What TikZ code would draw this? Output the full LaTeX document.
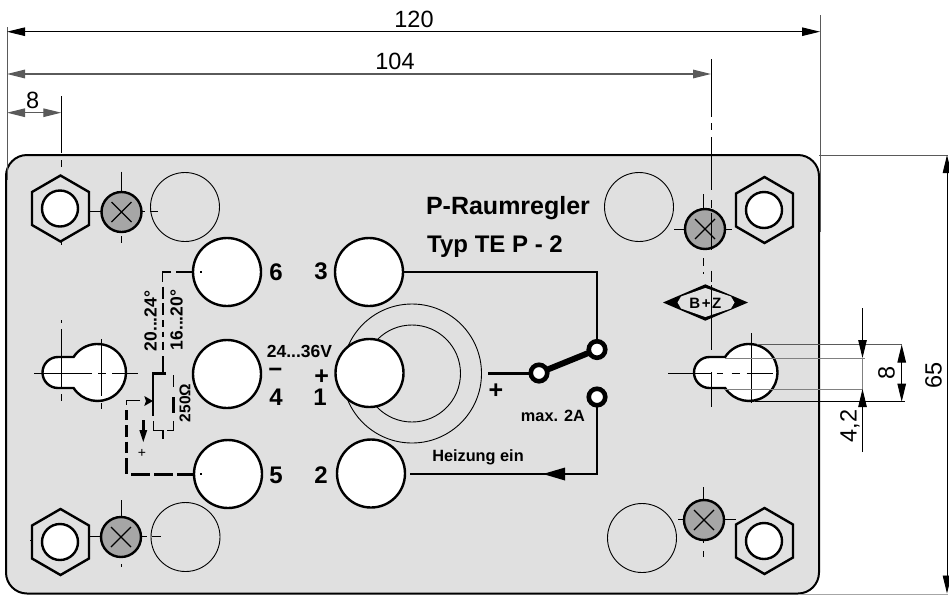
\documentclass[tikz,border=0pt]{standalone}
\usepackage{fontspec}
\setmainfont{Liberation Sans}
\usetikzlibrary{arrows.meta}
\definecolor{plate}{HTML}{E0E0E0}
\definecolor{screwgrey}{HTML}{A6A6A6}
\definecolor{dimgrey}{HTML}{5A5A5A}
\tikzset{
  x=1pt,y=-1pt,
  thinl/.style={line width=0.9pt,black},
  thickl/.style={line width=2.4pt,black},
  wire/.style={line width=3pt,black},
  dimline/.style={line width=0.9pt,black,{Triangle[length=18pt,width=8.5pt]}-{Triangle[length=18pt,width=8.5pt]}},
  dimin/.style={line width=0.9pt,black,-{Triangle[length=18pt,width=8.5pt]}},
  ext/.style={line width=0.9pt,dimgrey},
  dimtxt/.style={font=\fontsize{23.5}{25}\selectfont,inner sep=0pt},
  boldtxt/.style={font=\fontsize{16.3}{18}\selectfont\bfseries,inner sep=0pt},
  schemtxt/.style={font=\fontsize{17.5}{19}\selectfont\bfseries,inner sep=0pt},
  termtxt/.style={font=\fontsize{24}{26}\selectfont\bfseries,inner sep=0pt},
  titletxt/.style={font=\fontsize{25}{27}\selectfont\bfseries,inner sep=0pt},
  hole/.style={draw=black,fill=white,line width=2.4pt},
  term/.style={circle,draw=black,fill=white,line width=2.4pt,minimum size=68pt,inner sep=0pt,outer sep=0pt},
  contactp/.style={circle,draw=black,fill=white,line width=4.6pt,minimum size=16.5pt,inner sep=0pt,outer sep=0pt},
  ghost/.style={draw=black,line width=0.9pt},
}
\newcommand{\hexnut}[3]{%
  \draw[thickl] (#1,#2-33) -- (#1+28.5,#2-16.5) -- (#1+28.5,#2+16.5) -- (#1,#2+33) -- (#1-28.5,#2+16.5) -- (#1-28.5,#2-16.5) -- cycle;
  \draw[hole] (#3,#2) circle[radius=18];
}
\newcommand{\screwhead}[2]{%
  \draw[fill=screwgrey,draw=black,line width=2.4pt] (#1,#2) circle[radius=20];
  \draw[line width=1.1pt] (#1-10,#2-10) -- (#1+10,#2+10) (#1-10,#2+10) -- (#1+10,#2-10);
}
\begin{document}
\begin{tikzpicture}
\useasboundingbox (0,0) rectangle (949,595);
\fill[white] (0,0) rectangle (949,595);
% plate
\draw[fill=plate,draw=black,line width=2pt,rounded corners=21pt] (6,155) rectangle (819,593.5);
% extension lines
\draw[ext] (7,27) -- (7,180);
\draw[ext] (820,15) -- (820,232);
\draw[ext] (819,155) -- (948,155);
\draw[ext,gray!70] (800,594.3) -- (948,594.3);
% dimensions
\draw[dimline] (7,31.7) -- (820,31.7);
\draw[dimline,dimgrey,line width=1.4pt] (7,74) -- (711,74);
\draw[dimline,dimgrey,line width=1.2pt] (7,112.7) -- (61.3,112.7);
\draw[dimline] (947,155) -- (947,593.5);
\node[dimtxt] (d120) at (414,19) {120};
\node[dimtxt] (d104) at (395,61) {104};
\node[dimtxt] (d8a) at (32.7,100) {8};
\node[dimtxt,rotate=90] (d65) at (933.5,375) {65};
% ghost circles
\draw[ghost] (185,207) circle[radius=34.5];
\draw[ghost] (185.5,537) circle[radius=34.5];
\draw[ghost] (639,207) circle[radius=34.5];
\draw[ghost] (642,538) circle[radius=34.5];
\draw[ghost] (412,373.5) circle[radius=69.5];
\draw[ghost] (412,373.5) circle[radius=48.5];
% nuts and screws
\hexnut{60.5}{208.5}{60}\hexnut{60.5}{542}{60}\hexnut{764.5}{210}{764}\hexnut{764.5}{541}{764}
\draw[thinl] (61.3,96) -- (61.3,152.7) (61.3,160) -- (61.3,167) (61.3,242) -- (61.3,244.5);
\draw[thinl] (30,540) -- (32,540);
\draw[thinl] (121.5,171.7) -- (121.5,192) (121.5,236) -- (121.5,243) (89,211.5) -- (101,211.5) (141.7,211.5) -- (145,211.5) (150,211.5) -- (157.7,211.5);
\draw[thinl] (121.3,500) -- (121.3,518) (121.3,564) -- (121.3,567) (89,536.7) -- (101,536.7) (141.7,536.7) -- (146.7,536.7) (151.7,536.7) -- (161,536.7);
\draw[thinl] (703.3,194) -- (703.3,209) (674,229) -- (684.3,229) (725,229) -- (731.7,229) (703.3,258) -- (703.3,266) (703.3,272) -- (703.3,274);
\draw[thinl] (703.3,487) -- (703.3,500) (678,519.3) -- (684,519.3) (724,519.3) -- (735.7,519.3) (703.3,541) -- (703.3,543) (703.3,551) -- (703.3,557);
\screwhead{121.5}{212}\screwhead{121}{537}\screwhead{705}{229}\screwhead{704}{520}
% terminals
\node[term] (t6) at (227,272) {};
\node[term] (t4) at (227,374) {};
\node[term] (t5) at (228,474) {};
\node[term] (t3) at (369,272) {};
\node[term] (t1) at (369.5,373) {};
\node[term] (t2) at (371,473.5) {};
% key holes
\draw[hole] (58,357) arc[start angle=90,end angle=270,radius=15.5pt] -- (73.6,388) arc[start angle=213,end angle=507,radius=28.5pt] -- cycle;
\draw[hole] (709.5,357) arc[start angle=90,end angle=270,radius=15.5pt] -- (725.1,388) arc[start angle=213,end angle=507,radius=28.5pt] -- cycle;
% left slot centre lines
\draw[thinl] (61.3,320) -- (61.3,322.7) (61.3,329) -- (61.3,388) (61.3,394) -- (61.3,400.7);
\draw[thinl] (34,373) -- (91.7,373) (98,373) -- (106,373) (112,373) -- (137.7,373);
\draw[thinl] (101.7,339) -- (101.7,396) (101.7,403) -- (101.7,409);
% right slot centre lines
\draw[thinl] (668,373) -- (712,373) (716.7,373) -- (723,373) (731.7,373) -- (740,373) (746.7,373) -- (772.7,373);
\draw[thinl] (751.4,333) -- (751.4,403);
% centre line of the right screws
\draw[thinl] (711.3,59) -- (711.3,117) (711.3,123) -- (711.3,130) (711.3,137) -- (711.3,190) (711.3,200) -- (711.3,208);
% logo
\fill[black] (663,302.5) -- (705.3,284.3) -- (748,302.5) -- (705.3,320.7) -- cycle;
\fill[plate] (677.5,302.5) -- (681,296.5) -- (705.3,288) -- (731,296.5) -- (734.5,302.5) -- (731,308.5) -- (705.3,317) -- (681,308.5) -- cycle;
\node[inner sep=0pt,font=\fontsize{15}{16}\selectfont\bfseries] (logo) at (705.3,303) {B\hspace{1.5pt}+\hspace{1.5pt}Z};
\draw[thinl] (711.3,213) -- (711.3,250) (711.3,270.7) -- (711.3,281.7) (711.3,285) -- (711.3,350) (711.3,372) -- (711.3,407);
% slot dimensions
\draw[ext,gray] (725,358) -- (865,358) (725,389) -- (863,389) (862.5,358) -- (862.5,389);
\draw[ext] (757,344.5) -- (901.7,344.5);
\draw[line width=0.9pt] (755,401.7) -- (905,401.7);
\draw[dimin] (862.5,308) -- (862.5,358);
\draw[dimin] (862.5,452) -- (862.5,389);
\draw[dimline] (901.7,344.5) -- (901.7,401.7);
\node[dimtxt,rotate=90] (d8b) at (886.5,373) {8};
\node[dimtxt,rotate=90] (d42) at (850,426) {4,2};
% contacts and switch
\node[contactp] (c1) at (539,373) {};
\node[contactp] (c2) at (597,349.5) {};
\node[contactp] (c3) at (597,397) {};
\coordinate (wireIn) at (488,373);
\draw[wire] (wireIn) -- (c1);
\draw[line width=6pt] (c1) -- (c2);
\draw[line width=1.3pt] (t3.east) -- (c2 |- t3) -- (c2);
\coordinate (hz) at (410,474);
\draw[line width=1.3pt] (c3) -- (c3 |- hz) -- (565,474);
\draw[line width=2pt] (565,474) -- (hz);
\fill (543,474) -- (565,467.5) -- (565,480.5) -- cycle;
% schematic on the left
\draw[thickl] (176,272) -- (193,272);
\fill (200,271) rectangle (201.7,273);
\draw[line width=1.1pt] (171,272) -- (162.7,272) -- (162.7,281.6);
\draw[thickl] (162.7,286.7) -- (162.7,299.3) (162.7,303.3) -- (162.7,315) (162.7,320) -- (162.7,327.3) (162.7,331.7) -- (162.7,337.3) (162.7,341.7) -- (162.7,350) (162.7,356) -- (162.7,373.5);
\draw[line width=2.6pt] (166,373.5) -- (153,373.5) -- (153,416);
\draw[line width=1pt] (173.3,375) -- (173.3,387);
\draw[line width=2.6pt] (173.3,397) -- (173.3,413);
\draw[line width=1pt] (173.3,421) -- (173.3,430) -- (167,430);
\draw[line width=1pt] (153,421) -- (153,430) -- (163,430);
\draw[line width=2.4pt] (163,430) -- (163,439);
\fill (153,401) -- (144.3,396) -- (146,401) -- (144.3,406) -- cycle;
\draw[line width=1.1pt] (140,400.7) -- (126.3,400.7) -- (126.3,405);
\draw[thickl] (126.3,410) -- (126.3,420) (126.3,425) -- (126.3,436.7) (126.3,441.7) -- (126.3,453.3) (126.3,458.3) -- (126.3,473.5);
\draw[thickl] (131,474.3) -- (150,474.3) (154,474.3) -- (173,474.3) (177,474.3) -- (193,474.3);
\fill (200,473.3) rectangle (201.7,475.3);
\draw[line width=2.6pt] (143.3,420) -- (143.3,433);
\fill (143.3,442) -- (139.3,430) -- (147.3,430) -- cycle;
\node[inner sep=0pt,font=\fontsize{14}{15}\selectfont] (smallplus) at (142,453) {+};
\node[schemtxt,rotate=90] (tempa) at (150.7,321) {20...24°};
\node[schemtxt,rotate=90] (tempb) at (176.7,320) {16...20°};
\node[schemtxt,rotate=90,font=\fontsize{15.5}{18}\selectfont\bfseries] (ohm) at (185,403) {250Ω};
% labels
\node[titletxt] (title) at (508,208) {P-Raumregler};
\node[titletxt,font=\fontsize{24}{26}\selectfont\bfseries] (typ) at (495,247) {Typ TE P - 2};
\node[termtxt] (n6) at (276,272) {6};
\node[termtxt] (n3) at (321,271) {3};
\node[termtxt] (n5) at (276,475) {5};
\node[termtxt] (n2) at (321,475) {2};
\node[termtxt] (n4) at (276,397) {4};
\node[termtxt] (n1) at (320,397) {1};
\node[termtxt] (nminus) at (275.5,373) {−};
\node[termtxt,font=\fontsize{25}{27}\selectfont\bfseries] (nplus) at (321.7,376.7) {+};
\node[schemtxt] (volt) at (299.5,351) {24...36V};
\node[termtxt,font=\fontsize{25}{27}\selectfont\bfseries] (wplus) at (496,391) {+};
\node[boldtxt] (maxa) at (553,416) {max. 2A};
\node[boldtxt] (heiz) at (478,457) {Heizung ein};
\end{tikzpicture}
\end{document}
